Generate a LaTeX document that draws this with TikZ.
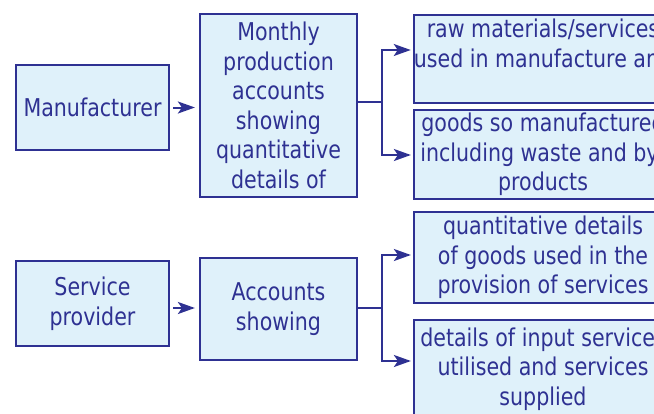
\documentclass[tikz,border=0pt]{standalone}
\usepackage{fontspec}
\setmainfont{DejaVu Sans}[FakeStretch=0.84]
\usetikzlibrary{arrows.meta}
\definecolor{navy}{HTML}{2E3192}
\definecolor{boxfill}{HTML}{DFF1FA}
\begin{document}
\begin{tikzpicture}[x=1pt,y=-1pt,
  box/.style={draw=navy, fill=boxfill, line width=2.2pt, text=navy, align=center,
    inner sep=0pt, font=\fontsize{24.5}{29.5}\selectfont},
  arr/.style={draw=navy, line width=2pt, -{Stealth[length=17pt,width=12pt,inset=4pt]}},
  link/.style={draw=navy, line width=2pt}]
\useasboundingbox (0,0) rectangle (654,413);
\clip (0,0) rectangle (654,413);
\node[box, minimum width=153pt, minimum height=85pt] (man) at (92.5,107.5) {Manufacturer};
\node[box, minimum width=157pt, minimum height=183pt] (mon) at (278.5,105.5) {Monthly\\production\\accounts\\showing\\quantitative\\details of};
\node[box, minimum width=258pt, minimum height=88pt] (b1) at (543,59) {raw materials/services\\used in manufacture and\\[-7pt]\strut};
\node[box, minimum width=258pt, minimum height=89pt] (b2) at (543,154.5) {goods so manufactured\\including waste and by-\\products};
\node[box, minimum width=153pt, minimum height=85pt] (sp) at (92.5,303.5) {Service\\provider};
\node[box, minimum width=157pt, minimum height=102pt] (acc) at (278.5,309) {Accounts\\showing};
\node[box, minimum width=258pt, minimum height=91pt] (b3) at (543,257.5) {quantitative details\\of goods used in the\\provision of services};
\node[box, minimum width=258pt, minimum height=98pt] (b4) at (543,369) {details of input services\\utilised and services\\supplied};
% top row
\draw[arr, shorten <=3pt, shorten >=4pt] (man.east) -- (man.east -| mon.west);
\coordinate (mj) at (382,102);
\coordinate (t1) at (382,50);
\coordinate (t2) at (382,155);
\draw[link] (mj -| mon.east) -- (mj);
\draw[arr, shorten >=2pt] (mj) -- (t1) -- (t1 -| b1.west);
\draw[arr, shorten >=2pt] (mj) -- (t2) -- (t2 -| b2.west);
% bottom row
\draw[arr, shorten <=3pt, shorten >=4pt] (sp.east |- 0,308) -- (acc.west |- 0,308);
\coordinate (sj) at (382,308);
\coordinate (t3) at (382,255);
\coordinate (t4) at (382,361);
\draw[link] (sj -| acc.east) -- (sj);
\draw[arr, shorten >=2pt] (sj) -- (t3) -- (t3 -| b3.west);
\draw[arr, shorten >=2pt] (sj) -- (t4) -- (t4 -| b4.west);
\end{tikzpicture}
\end{document}
